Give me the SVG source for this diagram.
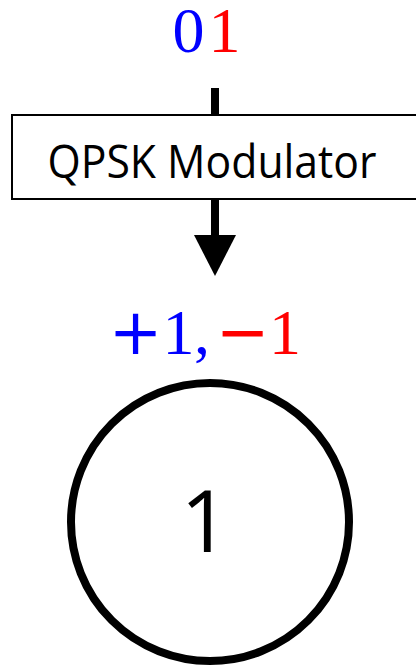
<svg xmlns="http://www.w3.org/2000/svg" width="416" height="667" viewBox="0 0 416 667">
  <style>
    .math { font-family: "Liberation Serif", "Times New Roman", serif; font-size: 64px; text-anchor: middle; }
    .op { font-family: "DejaVu Sans", "Liberation Sans", sans-serif; font-size: 64px; }
    .blue { fill: #0000ff; }
    .red { fill: #ff0000; }
    .label { font-family: "Open Sans", "Noto Sans", sans-serif; fill: #000; }
    .edge { stroke: #000; stroke-width: 8; fill: none; }
  </style>
  <rect width="416" height="667" fill="#fff"/>

  <!-- input bits -->
  <g id="bits">
    <text class="math" y="52"><tspan class="blue" x="188.5">0</tspan><tspan class="red" x="224.5">1</tspan></text>
  </g>

  <!-- connectors -->
  <g id="connectors">
    <line class="edge" x1="215" y1="88" x2="215" y2="116"/>
    <line class="edge" x1="215" y1="198" x2="215" y2="238"/>
    <polygon points="194,235 236,235 215,276" fill="#000"/>
  </g>

  <!-- modulator block -->
  <g id="modulator">
    <rect x="12" y="115" width="406" height="84" fill="#fff" stroke="#000" stroke-width="2"/>
    <text class="label" x="47.5" y="178" font-size="45" textLength="329" lengthAdjust="spacingAndGlyphs">QPSK Modulator</text>
  </g>

  <!-- symbol values -->
  <g id="symbol">
    <text class="math" y="354"><tspan class="blue op" x="135.5">+</tspan><tspan class="blue" x="178.5">1</tspan><tspan class="blue" x="202">,</tspan><tspan class="red op" x="242.5">−</tspan><tspan class="red" x="285">1</tspan></text>
  </g>

  <!-- constellation point -->
  <g id="point">
    <circle cx="210" cy="522" r="139" fill="#fff" stroke="#000" stroke-width="8"/>
    <text class="label" x="205" y="552" font-size="86" text-anchor="middle">1</text>
  </g>
</svg>
